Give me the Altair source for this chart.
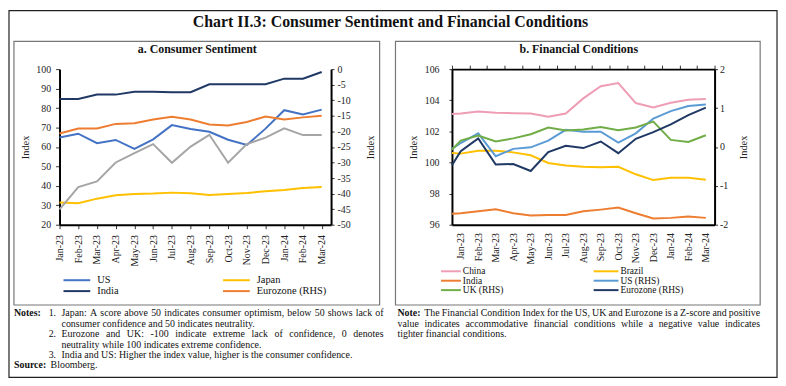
import altair as alt
import pandas as pd

FONT = "Liberation Serif"

months = ["Jan-23", "Feb-23", "Mar-23", "Apr-23", "May-23", "Jun-23", "Jul-23", "Aug-23",
          "Sep-23", "Oct-23", "Nov-23", "Dec-23", "Jan-24", "Feb-24", "Mar-24"]

# ---- Panel a: Consumer Sentiment ----
idx_a = list(range(15))
us_cs = [64.8, 66.8, 61.9, 63.6, 59.0, 63.9, 71.2, 69.2, 67.8, 63.7, 61.0, 69.4, 78.9, 76.7, 79.2]
india_cs = [84.7, 84.7, 86.9, 86.9, 88.4, 88.4, 88.1, 88.1, 92.2, 92.2, 92.2, 92.2, 95.1, 95.1, 98.5]
japan_cs = [31.4, 31.1, 33.4, 35.1, 35.8, 36.0, 36.5, 36.2, 35.3, 35.8, 36.3, 37.2, 37.9, 38.9, 39.4]
eurozone_cs = [-20.7, -19.1, -19.1, -17.6, -17.4, -16.2, -15.3, -16.2, -17.8, -18.1, -17.0, -15.2, -16.2, -15.5, -15.0]
uk_cs = [-45.1, -37.9, -36.1, -30.0, -27.0, -24.1, -30.1, -24.9, -21.1, -30.1, -24.1, -22.0, -19.0, -21.2, -21.2]

# ---- Panel b: Financial Conditions (first point sits at the axis start) ----
idx_b = [-0.5] + list(range(15))
china_fc = [103.11, 103.15, 103.27, 103.19, 103.17, 103.15, 102.94, 103.15, 104.12, 104.90, 105.11, 103.82, 103.53, 103.84, 104.03, 104.08]
brazil_fc = [100.61, 100.57, 100.76, 100.76, 100.65, 100.46, 99.97, 99.81, 99.72, 99.70, 99.72, 99.24, 98.87, 99.02, 99.02, 98.89]
india_fc = [96.70, 96.74, 96.86, 96.99, 96.74, 96.59, 96.63, 96.63, 96.86, 96.97, 97.10, 96.74, 96.40, 96.44, 96.53, 96.44]
us_fc = [-0.05, 0.10, 0.35, -0.24, -0.05, -0.01, 0.16, 0.44, 0.39, 0.39, 0.11, 0.35, 0.73, 0.92, 1.05, 1.09]
uk_fc = [-0.07, 0.165, 0.29, 0.14, 0.22, 0.325, 0.50, 0.42, 0.45, 0.51, 0.43, 0.50, 0.65, 0.18, 0.13, 0.30]
ez_fc = [-0.47, -0.11, 0.22, -0.45, -0.44, -0.62, -0.13, 0.03, -0.03, 0.14, -0.16, 0.21, 0.38, 0.58, 0.82, 1.01]

colors_a = {"US": "#4472C4", "India": "#1F3864", "Japan": "#FFC000",
            "Eurozone (RHS)": "#ED7D31", "UK (RHS)": "#A5A5A5"}
colors_b = {"China": "#EE9DB5", "Brazil": "#FFC000", "India": "#ED7D31",
            "US (RHS)": "#5B9BD5", "UK (RHS)": "#70AD47", "Eurozone (RHS)": "#1F3864"}

chart_title = "Chart II.3: Consumer Sentiment and Financial Conditions"
title_a = "a. Consumer Sentiment"
title_b = "b. Financial Conditions"
notes_a_lines = [
    "Japan: A score above 50 indicates consumer optimism, below 50 shows lack of",
    "consumer confidence and 50 indicates neutrality.",
    "Eurozone and UK: -100 indicate extreme lack of confidence, 0 denotes",
    "neutrality while 100 indicates extreme confidence.",
    "India and US: Higher the index value, higher is the consumer confidence.",
]
notes_b_lines = [
    "The Financial Condition Index for the US, UK and Eurozone is a Z-score and positive",
    "value indicates accommodative financial conditions while a negative value indicates",
    "tighter financial conditions.",
]

# Times / Liberation Serif advance widths (per 1000 em) used to justify the notes
_W = dict(zip("abcdefghijklmnopqrstuvwxyz",
              [444, 500, 444, 500, 444, 333, 500, 500, 278, 278, 500, 278, 778, 500, 500, 500, 500,
               333, 389, 278, 500, 500, 722, 500, 500, 444]))
_W.update(dict(zip("ABCDEFGHIJKLMNOPQRSTUVWXYZ",
                   [722, 667, 667, 722, 611, 556, 722, 722, 333, 389, 722, 611, 889, 722, 722, 556,
                    722, 667, 556, 611, 722, 722, 944, 722, 722, 611])))
_W.update({c: 500 for c in "0123456789"})
_W.update({" ": 250, ".": 250, ",": 250, ":": 278, "-": 333, "(": 333, ")": 333})


def text_width(s, size):
    return sum(_W.get(c, 500) for c in s) * size / 1000.0


def justified(line, x0, x1, y, size):
    words = line.split()
    widths = [text_width(w, size) for w in words]
    gap = (x1 - x0 - sum(widths)) / (len(words) - 1)
    rows, x = [], x0
    for w, wd in zip(words, widths):
        rows.append({"x": x, "y": y, "text": w})
        x += wd + gap
    return rows


def long_df(idx, series):
    rows = []
    for name, vals in series.items():
        for i, v in zip(idx, vals):
            rows.append({"idx": i, "value": v, "series": name})
    return pd.DataFrame(rows)


label_expr = "[" + ",".join(f"'{m}'" for m in months) + "][round(datum.value)]"
num_expr = "'' + datum.value"

AX = dict(grid=False, domainColor="black", domainWidth=2, tickColor="#333",
          labelFont=FONT, labelFontSize=10, labelColor="#222",
          titleFont=FONT, titleFontSize=10.5, titleFontWeight="normal", titleColor="#222")


def px(field):
    return alt.X(f"{field}:Q", scale=None, axis=None)


def py(field):
    return alt.Y(f"{field}:Q", scale=None, axis=None)


def box_layer(df, stroke, width):
    return alt.Chart(df).mark_rect(fill="white", fillOpacity=0, stroke=stroke, strokeWidth=width).encode(
        x=px("x0"), x2="x1:Q", y=py("y0"), y2="y1:Q")


def text_layer(df, size, weight="normal", align="left", color="#111"):
    return alt.Chart(df).mark_text(align=align, baseline="middle", font=FONT, fontSize=size,
                                   fontWeight=weight, color=color).encode(
        x=px("x"), y=py("y"), text="text:N")


def legend_layer(df, size):
    rules = alt.Chart(df).mark_rule(strokeWidth=2).encode(
        x=px("x0"), x2="x1:Q", y=py("y"), color=alt.Color("color:N", scale=None))
    texts = alt.Chart(df).mark_text(align="left", baseline="middle", font=FONT, fontSize=size,
                                    color="#111").encode(x=px("xt"), y=py("y"), text="label:N")
    return [rules, texts]


NOTE = 10

# ================= Panel a =================
WA, HA = 274, 157
xa = alt.Scale(domain=[0, 14.5], nice=False, zero=False)
cs_a = alt.Scale(domain=list(colors_a.keys()), range=list(colors_a.values()))

a_left = alt.Chart(long_df(idx_a, {"US": us_cs, "India": india_cs, "Japan": japan_cs})).mark_line(
    strokeWidth=2).encode(
    x=alt.X("idx:Q", scale=xa, axis=alt.Axis(values=idx_a, labelExpr=label_expr, labelAngle=-90,
                                              title=None, tickSize=4, labelPadding=6,
                                              labelOverlap=False, **AX)),
    y=alt.Y("value:Q", scale=alt.Scale(domain=[20, 100], nice=False, zero=False),
            axis=alt.Axis(values=list(range(20, 101, 10)), title="Index", tickSize=4,
                          labelPadding=5, titlePadding=5, **AX)),
    color=alt.Color("series:N", scale=cs_a, legend=None),
)
a_right = alt.Chart(long_df(idx_a, {"Eurozone (RHS)": eurozone_cs, "UK (RHS)": uk_cs})).mark_line(
    strokeWidth=2).encode(
    x=alt.X("idx:Q", scale=xa, axis=None),
    y=alt.Y("value:Q", scale=alt.Scale(domain=[-50, 0], nice=False, zero=False),
            axis=alt.Axis(orient="right", values=list(range(-50, 1, 5)), labelExpr=num_expr,
                          title="Index", titleAngle=270, tickSize=3, labelPadding=3,
                          titlePadding=25, **AX)),
    color=alt.Color("series:N", scale=cs_a, legend=None),
)

# decorations for panel a (pixel positions relative to panel a plot area)
frame = pd.DataFrame([{"x0": -51, "x1": 724, "y0": -59, "y1": 311}])
box_a = pd.DataFrame([{"x0": -46, "x1": 323, "y0": -28, "y1": 238}])
title_df = pd.DataFrame([{"x": 334, "y": -48, "text": chart_title}])
sub_a = pd.DataFrame([{"x": 139, "y": -20, "text": title_a}])
leg_a = pd.DataFrame([
    {"x0": 4, "x1": 31, "xt": 38, "y": 213, "label": "US", "color": colors_a["US"]},
    {"x0": 4, "x1": 31, "xt": 38, "y": 224, "label": "India", "color": colors_a["India"]},
    {"x0": 165, "x1": 192, "xt": 199, "y": 213, "label": "Japan", "color": colors_a["Japan"]},
    {"x0": 165, "x1": 192, "xt": 199, "y": 224, "label": "Eurozone (RHS)", "color": colors_a["Eurozone (RHS)"]},
])
notes_bold_a = pd.DataFrame([
    {"x": -46, "y": 246.5, "text": "Notes:"},
    {"x": -46, "y": 299, "text": "Source:"},
])
rows = []
rows += [{"x": -11, "y": 246.5, "text": "1."}]
rows += justified(notes_a_lines[0], 2, 327, 246.5, NOTE)
rows += [{"x": 2, "y": 257, "text": notes_a_lines[1]}]
rows += [{"x": -11, "y": 267.5, "text": "2."}]
rows += justified(notes_a_lines[2], 2, 327, 267.5, NOTE)
rows += [{"x": 2, "y": 278, "text": notes_a_lines[3]}]
rows += [{"x": -11, "y": 288.5, "text": "3."}]
rows += [{"x": 2, "y": 288.5, "text": notes_a_lines[4]}]
rows += [{"x": -9, "y": 299, "text": "Bloomberg."}]
notes_a = pd.DataFrame(rows)

panel_a = alt.layer(
    box_layer(frame, "#222", 1.2),
    box_layer(box_a, "#777", 1.2),
    text_layer(title_df, 16, "bold", "center"),
    text_layer(sub_a, 12, "bold", "center"),
    *legend_layer(leg_a, 10.5),
    text_layer(notes_bold_a, NOTE, "bold"),
    text_layer(notes_a, NOTE),
    a_left, a_right,
).resolve_scale(x="independent", y="independent", color="independent").properties(width=WA, height=HA)

# ================= Panel b =================
WB, HB = 265, 157
xb = alt.Scale(domain=[-0.5, 14.5], nice=False, zero=False)
cs_b = alt.Scale(domain=list(colors_b.keys()), range=list(colors_b.values()))

b_left = alt.Chart(long_df(idx_b, {"China": china_fc, "Brazil": brazil_fc, "India": india_fc})).mark_line(
    strokeWidth=2).encode(
    x=alt.X("idx:Q", scale=xb, axis=alt.Axis(values=idx_a, labelExpr=label_expr, labelAngle=-90,
                                              title=None, ticks=False, labelPadding=8,
                                              labelOverlap=False, **AX)),
    y=alt.Y("value:Q", scale=alt.Scale(domain=[96, 106], nice=False, zero=False),
            axis=alt.Axis(values=list(range(96, 107, 2)), title="Index", tickSize=3,
                          labelPadding=10, titlePadding=6, **AX)),
    color=alt.Color("series:N", scale=cs_b, legend=None),
)
b_right = alt.Chart(long_df(idx_b, {"US (RHS)": us_fc, "UK (RHS)": uk_fc, "Eurozone (RHS)": ez_fc})).mark_line(
    strokeWidth=2).encode(
    x=alt.X("idx:Q", scale=xb, axis=alt.Axis(values=[i + 0.5 for i in [-1] + idx_a], labels=False,
                                              title=None, tickSize=4, **AX)),
    y=alt.Y("value:Q", scale=alt.Scale(domain=[-2, 2], nice=False, zero=False),
            axis=alt.Axis(orient="right", values=[-2, -1, 0, 1, 2], labelExpr=num_expr,
                          title="Index", titleAngle=270, tickSize=3, labelPadding=2,
                          titlePadding=21, **AX)),
    color=alt.Color("series:N", scale=cs_b, legend=None),
)

box_b = pd.DataFrame([{"x0": -57, "x1": 311, "y0": -28, "y1": 238}])
sub_b = pd.DataFrame([{"x": 128, "y": -20, "text": title_b}])
leg_b = pd.DataFrame([
    {"x0": -11, "x1": 9, "xt": 11, "y": 204, "label": "China", "color": colors_b["China"]},
    {"x0": -11, "x1": 9, "xt": 11, "y": 213.5, "label": "India", "color": colors_b["India"]},
    {"x0": -11, "x1": 9, "xt": 11, "y": 223, "label": "UK (RHS)", "color": colors_b["UK (RHS)"]},
    {"x0": 143, "x1": 168, "xt": 170, "y": 204, "label": "Brazil", "color": colors_b["Brazil"]},
    {"x0": 143, "x1": 168, "xt": 170, "y": 213.5, "label": "US (RHS)", "color": colors_b["US (RHS)"]},
    {"x0": 143, "x1": 168, "xt": 170, "y": 223, "label": "Eurozone (RHS)", "color": colors_b["Eurozone (RHS)"]},
])
notes_bold_b = pd.DataFrame([{"x": -55, "y": 246.5, "text": "Note:"}])
rows = []
rows += justified(notes_b_lines[0], -28, 311, 246.5, NOTE)
rows += justified(notes_b_lines[1], -55, 311, 257, NOTE)
rows += [{"x": -55, "y": 267.5, "text": notes_b_lines[2]}]
notes_b = pd.DataFrame(rows)

panel_b = alt.layer(
    box_layer(box_b, "#777", 1.2),
    text_layer(sub_b, 12, "bold", "center"),
    *legend_layer(leg_b, 9.5),
    text_layer(notes_bold_b, NOTE, "bold"),
    text_layer(notes_b, NOTE),
    b_left, b_right,
).resolve_scale(x="independent", y="independent", color="independent").properties(width=WB, height=HB)

chart = alt.hconcat(panel_a, panel_b, spacing=122, bounds="flush").properties(
    padding=0, background="white"
).configure_view(strokeWidth=0)

chart.save("out.html", embed_options={"renderer": "svg", "actions": False})
